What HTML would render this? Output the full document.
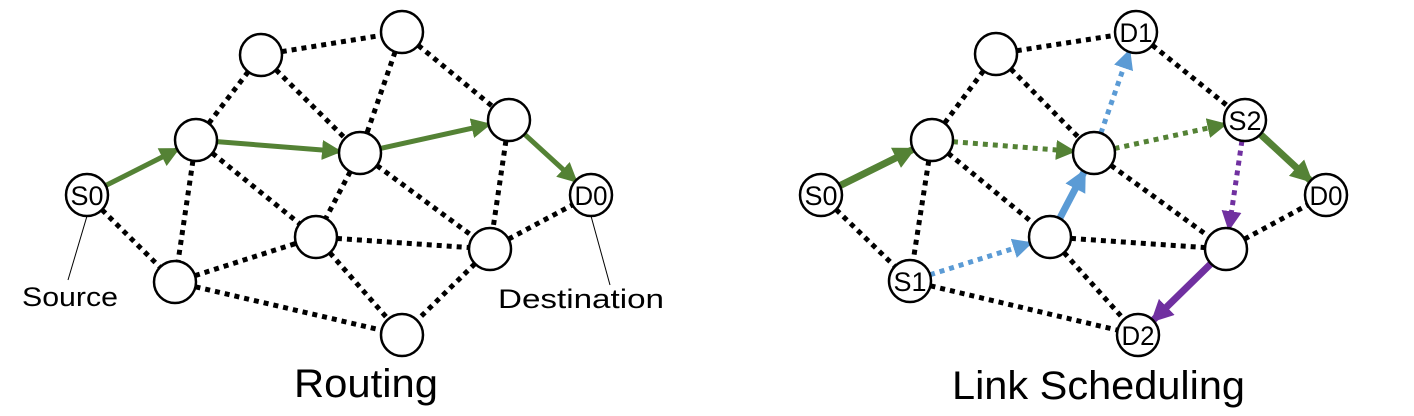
<!DOCTYPE html>
<html><head><meta charset="utf-8"><style>
html,body{margin:0;padding:0;background:#fff;}
svg{display:block}
text{font-family:"Liberation Sans",sans-serif;}
</style></head><body>
<svg id="s" width="1414" height="416" viewBox="0 0 1414 416" xmlns="http://www.w3.org/2000/svg">
<defs>
<marker id="mg" markerWidth="4" markerHeight="4" refX="3.2" refY="2" orient="auto" markerUnits="strokeWidth"><path d="M0,0 L4,2 L0,4 z" fill="#548235"/></marker>
<marker id="mb" markerWidth="4" markerHeight="4" refX="3.2" refY="2" orient="auto" markerUnits="strokeWidth"><path d="M0,0 L4,2 L0,4 z" fill="#5B9BD5"/></marker>
<marker id="mp" markerWidth="4" markerHeight="4" refX="3.2" refY="2" orient="auto" markerUnits="strokeWidth"><path d="M0,0 L4,2 L0,4 z" fill="#7030A0"/></marker>
<marker id="mg2" markerWidth="3.2" markerHeight="3.2" refX="2.6" refY="1.6" orient="auto" markerUnits="strokeWidth"><path d="M0,0 L3.2,1.6 L0,3.2 z" fill="#548235"/></marker>
<marker id="mb2" markerWidth="3.2" markerHeight="3.2" refX="2.6" refY="1.6" orient="auto" markerUnits="strokeWidth"><path d="M0,0 L3.2,1.6 L0,3.2 z" fill="#5B9BD5"/></marker>
<marker id="mp2" markerWidth="3.2" markerHeight="3.2" refX="2.6" refY="1.6" orient="auto" markerUnits="strokeWidth"><path d="M0,0 L3.2,1.6 L0,3.2 z" fill="#7030A0"/></marker>
</defs>
<g id="edges"></g>
<g id="nodes" fill="#fff" stroke="#000" stroke-width="2.5">
<circle cx="87" cy="195" r="21"/><circle cx="196" cy="140" r="21"/><circle cx="261" cy="55" r="21"/><circle cx="402" cy="32" r="21"/><circle cx="360" cy="153" r="21"/><circle cx="509" cy="120" r="21"/><circle cx="591" cy="195" r="21"/><circle cx="175" cy="282" r="21"/><circle cx="316" cy="237" r="21"/><circle cx="490" cy="249" r="21"/><circle cx="402" cy="335" r="21"/>
<circle cx="821" cy="195" r="21"/><circle cx="932" cy="140" r="21"/><circle cx="996" cy="54" r="21"/><circle cx="1136" cy="32" r="21"/><circle cx="1094" cy="153" r="21"/><circle cx="1245" cy="120" r="21"/><circle cx="1326" cy="195" r="21"/><circle cx="910" cy="281" r="21"/><circle cx="1050" cy="237" r="21"/><circle cx="1226" cy="249" r="21"/><circle cx="1138" cy="335" r="21"/>
</g>
<g font-size="27" text-anchor="middle" fill="#000">
<text x="87" y="205" textLength="33" lengthAdjust="spacingAndGlyphs">S0</text><text x="591" y="205" textLength="33" lengthAdjust="spacingAndGlyphs">D0</text>
<text x="821" y="205" textLength="33" lengthAdjust="spacingAndGlyphs">S0</text><text x="1136" y="42" textLength="33" lengthAdjust="spacingAndGlyphs">D1</text><text x="1245" y="130" textLength="33" lengthAdjust="spacingAndGlyphs">S2</text><text x="1326" y="205" textLength="33" lengthAdjust="spacingAndGlyphs">D0</text><text x="910" y="291" textLength="33" lengthAdjust="spacingAndGlyphs">S1</text><text x="1138" y="345" textLength="33" lengthAdjust="spacingAndGlyphs">D2</text>
</g>
<line x1="87" y1="216" x2="68" y2="280" stroke="#000" stroke-width="1"/>
<line x1="591" y1="216" x2="610" y2="285" stroke="#000" stroke-width="1"/>
<text x="22" y="306" font-size="27" textLength="96" lengthAdjust="spacingAndGlyphs">Source</text>
<text x="498" y="308" font-size="27" textLength="166" lengthAdjust="spacingAndGlyphs">Destination</text>
<text x="294" y="397" font-size="40" textLength="144" lengthAdjust="spacingAndGlyphs">Routing</text>
<text x="952" y="399" font-size="40" textLength="293" lengthAdjust="spacingAndGlyphs">Link Scheduling</text>
</svg>
<script>
var N={a0:[87,195],a1:[196,140],a2:[261,55],a3:[402,32],a4:[360,153],a5:[509,120],a6:[591,195],a7:[175,282],a8:[316,237],a9:[490,249],a10:[402,335],
b0:[821,195],b1:[932,140],b2:[996,54],b3:[1136,32],b4:[1094,153],b5:[1245,120],b6:[1326,195],b7:[910,281],b8:[1050,237],b9:[1226,249],b10:[1138,335]};
var E=[];
[[2,3],[2,1],[2,4],[3,4],[3,5],[1,7],[1,8],[0,7],[7,8],[7,10],[4,8],[4,9],[8,9],[8,10],[9,10],[5,9],[9,6]].forEach(function(p){E.push(['a'+p[0],'a'+p[1],'d','#000',5,null]);});
[[2,3],[2,1],[2,4],[3,5],[1,7],[1,8],[0,7],[7,10],[4,9],[8,9],[8,10],[9,6]].forEach(function(p){E.push(['b'+p[0],'b'+p[1],'d','#000',5,null]);});
E.push(['a0','a1','s','#548235',5,'mg'],['a1','a4','s','#548235',5,'mg'],['a4','a5','s','#548235',5,'mg'],['a5','a6','s','#548235',5,'mg']);
E.push(['b0','b1','s','#548235',7,'mg2'],['b1','b4','d','#548235',5,'mg'],['b4','b5','d','#548235',5,'mg'],['b5','b6','s','#548235',7,'mg2'],
['b7','b8','d','#5B9BD5',5,'mb'],['b8','b4','s','#5B9BD5',7,'mb2'],['b4','b3','d','#5B9BD5',5,'mb'],
['b5','b9','d','#7030A0',5,'mp'],['b9','b10','s','#7030A0',7,'mp2']);
var g=document.getElementById('edges'),ns='http://www.w3.org/2000/svg';
E.forEach(function(e){var p=N[e[0]],q=N[e[1]],dx=q[0]-p[0],dy=q[1]-p[1],L=Math.hypot(dx,dy),ux=dx/L,uy=dy/L;
var r1=21,r2=e[5]?22:21;
var l=document.createElementNS(ns,'line');
l.setAttribute('x1',p[0]+ux*r1);l.setAttribute('y1',p[1]+uy*r1);l.setAttribute('x2',q[0]-ux*r2);l.setAttribute('y2',q[1]-uy*r2);
l.setAttribute('stroke',e[3]);l.setAttribute('stroke-width',e[4]);
if(e[2]=='d')l.setAttribute('stroke-dasharray','5 5');
if(e[5])l.setAttribute('marker-end','url(#'+e[5]+')');
g.appendChild(l);});
</script>
</body></html>
